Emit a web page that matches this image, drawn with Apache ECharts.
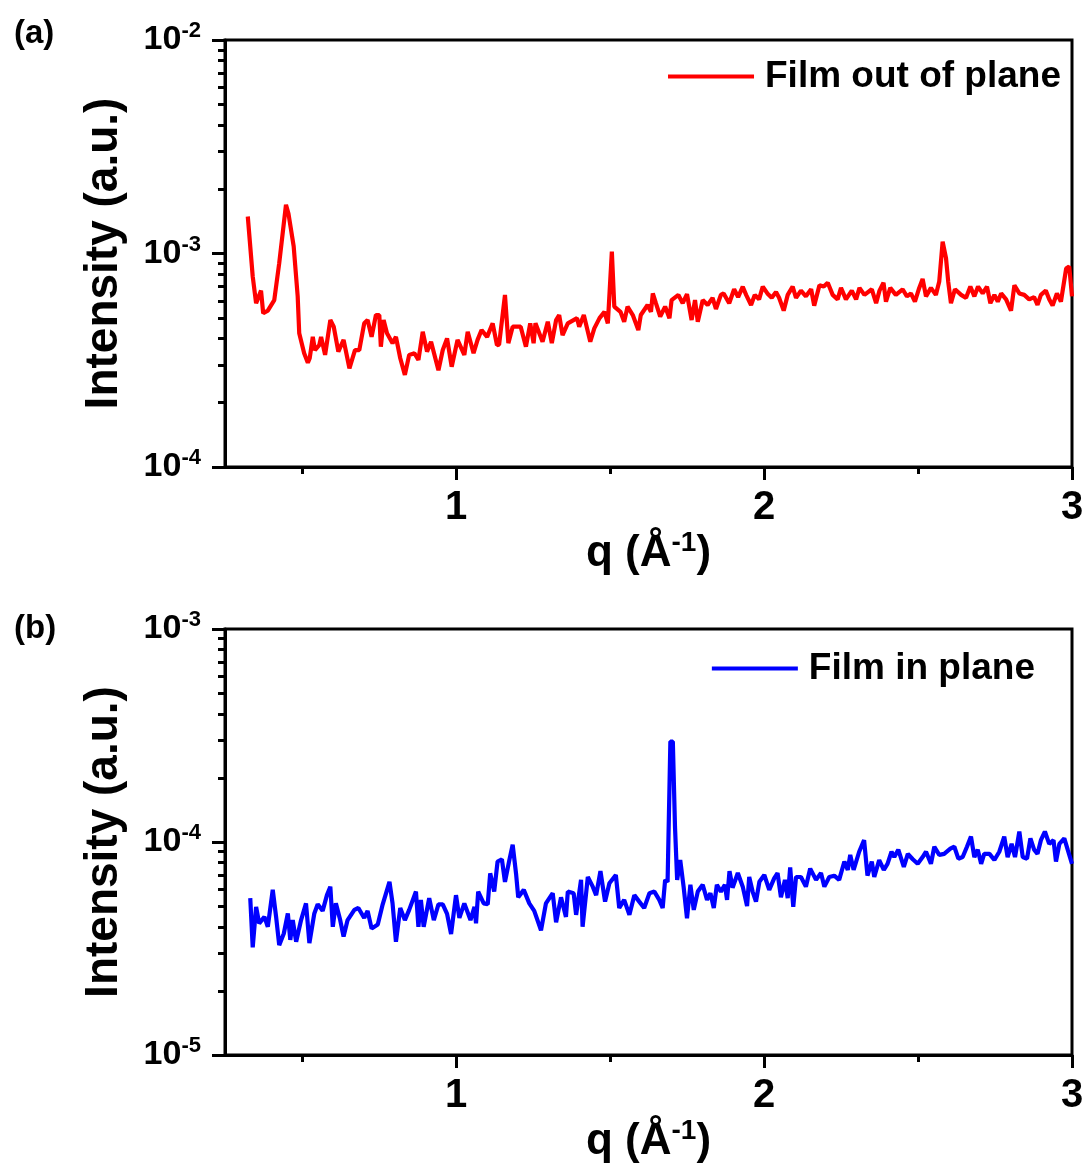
<!DOCTYPE html>
<html><head><meta charset="utf-8">
<script src="https://cdn.jsdelivr.net/npm/echarts@6/dist/echarts.min.js"></script>
<style>html,body{margin:0;padding:0;background:#fff}#c{width:1088px;height:1171px}</style>
</head><body><div id="c"></div>
<script>
// ---- Data: panel (a) Film out of plane ----
const qA = [0.324,0.340,0.351,0.367,0.374,0.389,0.410,0.426,0.448,0.456,0.473,0.486,0.491,0.507,0.519,0.525,0.535,0.542,0.556,0.562,0.575,0.592,0.603,0.618,0.635,0.654,0.672,0.686,0.702,0.713,0.726,0.740,0.751,0.756,0.765,0.776,0.794,0.805,0.819,0.834,0.848,0.865,0.878,0.892,0.906,0.919,0.943,0.957,0.971,0.986,1.005,1.027,1.038,1.057,1.070,1.083,1.101,1.119,1.133,1.140,1.159,1.170,1.184,1.210,1.227,1.241,1.252,1.258,1.281,1.298,1.311,1.325,1.335,1.346,1.363,1.393,1.400,1.415,1.436,1.449,1.466,1.482,1.493,1.506,1.514,1.534,1.546,1.557,1.574,1.580,1.592,1.600,1.622,1.633,1.639,1.649,1.663,1.679,1.693,1.700,1.722,1.736,1.750,1.765,1.776,1.785,1.801,1.817,1.833,1.844,1.860,1.869,1.887,1.903,1.916,1.931,1.942,1.958,1.970,1.984,1.996,2.011,2.025,2.039,2.049,2.064,2.077,2.093,2.104,2.120,2.136,2.153,2.163,2.180,2.194,2.207,2.223,2.239,2.250,2.266,2.285,2.299,2.310,2.326,2.350,2.364,2.375,2.388,2.396,2.410,2.428,2.450,2.464,2.477,2.490,2.504,2.515,2.526,2.542,2.558,2.569,2.580,2.591,2.598,2.607,2.620,2.640,2.656,2.670,2.683,2.695,2.710,2.724,2.735,2.748,2.759,2.770,2.786,2.802,2.813,2.829,2.845,2.861,2.877,2.888,2.899,2.915,2.926,2.937,2.951,2.964,2.981,2.991,3.000];
const intensityA = [1.49e-3,7.8e-4,5.85e-4,6.7e-4,5.25e-4,5.4e-4,6.05e-4,9.0e-4,1.69e-3,1.54e-3,1.08e-3,6.3e-4,4.23e-4,3.41e-4,3.08e-4,3.23e-4,4.07e-4,3.53e-4,3.72e-4,4.07e-4,3.35e-4,4.88e-4,4.54e-4,3.47e-4,3.94e-4,2.9e-4,3.53e-4,3.53e-4,4.71e-4,4.88e-4,4.07e-4,5.15e-4,5.15e-4,3.66e-4,4.88e-4,4.23e-4,3.8e-4,4.07e-4,3.23e-4,2.7e-4,3.35e-4,3.41e-4,3.17e-4,4.3e-4,3.47e-4,3.86e-4,2.84e-4,3.53e-4,4.0e-4,2.95e-4,3.94e-4,3.35e-4,4.3e-4,3.41e-4,3.94e-4,4.38e-4,4.07e-4,4.71e-4,3.72e-4,3.75e-4,6.4e-4,3.8e-4,4.54e-4,4.54e-4,3.66e-4,4.71e-4,3.8e-4,4.71e-4,3.86e-4,4.79e-4,3.8e-4,4.88e-4,5.15e-4,4.15e-4,4.71e-4,4.98e-4,4.54e-4,5.15e-4,3.86e-4,4.46e-4,4.98e-4,5.33e-4,4.71e-4,1.02e-3,5.64e-4,5.33e-4,4.79e-4,5.64e-4,5.15e-4,5.2e-4,4.38e-4,5.15e-4,5.74e-4,5.33e-4,6.5e-4,5.85e-4,5.07e-4,5.64e-4,4.98e-4,6.05e-4,6.4e-4,5.85e-4,6.45e-4,4.88e-4,6.05e-4,4.79e-4,6.05e-4,5.74e-4,6.2e-4,5.5e-4,6.4e-4,6.5e-4,5.85e-4,6.8e-4,6.25e-4,6.99e-4,6.4e-4,5.74e-4,6.4e-4,6.1e-4,7.0e-4,6.5e-4,6.2e-4,6.6e-4,6.2e-4,5.4e-4,6.4e-4,7.0e-4,6.2e-4,6.7e-4,6.3e-4,6.8e-4,5.7e-4,7.1e-4,7.0e-4,7.3e-4,6.4e-4,6.1e-4,6.9e-4,6.1e-4,6.7e-4,6.1e-4,6.9e-4,6.4e-4,6.8e-4,5.85e-4,6.7e-4,7.3e-4,5.95e-4,6.9e-4,6.4e-4,6.8e-4,6.3e-4,6.5e-4,5.95e-4,6.9e-4,7.6e-4,6.3e-4,6.9e-4,6.4e-4,7.4e-4,1.135e-3,9.5e-4,7.4e-4,5.85e-4,6.8e-4,6.4e-4,6.2e-4,7.0e-4,6.3e-4,7.0e-4,6.5e-4,7.0e-4,5.85e-4,6.4e-4,5.95e-4,6.5e-4,6.1e-4,5.4e-4,7.1e-4,6.5e-4,6.4e-4,6.1e-4,6.25e-4,5.75e-4,6.4e-4,6.7e-4,6.1e-4,5.7e-4,6.5e-4,5.95e-4,8.5e-4,8.7e-4,6.3e-4];

// ---- Data: panel (b) Film in plane ----
const qB = [0.332,0.340,0.351,0.361,0.378,0.389,0.405,0.416,0.426,0.441,0.454,0.462,0.470,0.481,0.497,0.513,0.524,0.540,0.551,0.567,0.581,0.592,0.600,0.610,0.624,0.635,0.648,0.670,0.683,0.702,0.713,0.726,0.746,0.762,0.784,0.794,0.805,0.819,0.834,0.848,0.870,0.878,0.886,0.895,0.913,0.928,0.943,0.957,0.971,0.984,1.000,1.011,1.027,1.047,1.060,1.065,1.072,1.090,1.103,1.111,1.124,1.135,1.149,1.159,1.173,1.184,1.195,1.202,1.220,1.238,1.254,1.276,1.292,1.314,1.325,1.341,1.357,1.363,1.382,1.390,1.406,1.411,1.428,1.444,1.455,1.469,1.484,1.498,1.519,1.530,1.546,1.563,1.579,1.595,1.611,1.628,1.644,1.660,1.671,1.679,1.687,1.696,1.704,1.711,1.718,1.728,1.739,1.750,1.761,1.772,1.785,1.801,1.815,1.826,1.837,1.847,1.860,1.873,1.880,1.888,1.898,1.915,1.931,1.945,1.952,1.963,1.974,1.985,2.001,2.017,2.033,2.044,2.055,2.068,2.077,2.085,2.095,2.104,2.120,2.136,2.150,2.169,2.185,2.196,2.212,2.228,2.244,2.261,2.272,2.280,2.291,2.309,2.325,2.336,2.350,2.358,2.374,2.389,2.401,2.414,2.423,2.436,2.454,2.467,2.483,2.499,2.515,2.526,2.542,2.553,2.569,2.585,2.605,2.618,2.631,2.645,2.659,2.672,2.683,2.694,2.705,2.715,2.732,2.748,2.764,2.780,2.791,2.804,2.815,2.829,2.840,2.854,2.865,2.877,2.888,2.899,2.912,2.926,2.940,2.948,2.959,2.975,2.986,3.000];
const intensityB = [5.45e-5,3.2e-5,4.96e-5,4.15e-5,4.45e-5,4.0e-5,5.96e-5,4.45e-5,3.28e-5,3.72e-5,4.62e-5,3.47e-5,4.3e-5,3.4e-5,4.3e-5,5.15e-5,3.35e-5,4.62e-5,5.1e-5,4.75e-5,5.63e-5,6.17e-5,4.0e-5,5.15e-5,4.3e-5,3.6e-5,4.3e-5,4.8e-5,4.9e-5,4.4e-5,4.75e-5,3.92e-5,4.1e-5,5.1e-5,6.5e-5,5.15e-5,3.4e-5,4.9e-5,4.3e-5,4.8e-5,5.85e-5,4.0e-5,5.35e-5,4.0e-5,5.45e-5,4.3e-5,5.1e-5,5.1e-5,4.6e-5,3.7e-5,5.63e-5,4.4e-5,5.15e-5,4.3e-5,4.96e-5,4.15e-5,5.85e-5,5.15e-5,5.1e-5,7.13e-5,5.85e-5,8.1e-5,8.3e-5,6.5e-5,8.2e-5,9.7e-5,7.1e-5,5.5e-5,5.96e-5,5.15e-5,4.75e-5,3.85e-5,5.15e-5,5.75e-5,4.2e-5,5.5e-5,4.45e-5,5.85e-5,5.75e-5,4.55e-5,6.64e-5,4.0e-5,6.85e-5,6.17e-5,5.63e-5,7.3e-5,5.25e-5,6.4e-5,7.0e-5,4.9e-5,5.35e-5,4.55e-5,5.63e-5,5.25e-5,4.9e-5,5.75e-5,5.85e-5,5.35e-5,4.9e-5,6.64e-5,6.5e-5,2.96e-4,2.96e-4,1.18e-4,6.64e-5,8.23e-5,6.17e-5,4.38e-5,6.3e-5,4.8e-5,5.85e-5,6.3e-5,5.35e-5,5.75e-5,4.9e-5,6.3e-5,5.85e-5,6.3e-5,5.35e-5,7.3e-5,6.1e-5,7.15e-5,6.17e-5,5.0e-5,6.85e-5,5.85e-5,5.25e-5,6.5e-5,7.0e-5,5.96e-5,6.75e-5,7.15e-5,5.5e-5,6.64e-5,5.45e-5,7.6e-5,4.96e-5,6.85e-5,6.85e-5,6.17e-5,7.5e-5,6.64e-5,7.15e-5,6.17e-5,6.85e-5,6.95e-5,6.64e-5,8.1e-5,7.4e-5,8.7e-5,7.4e-5,9.0e-5,1.02e-4,6.95e-5,8.1e-5,6.85e-5,8.23e-5,7.4e-5,7.9e-5,9.0e-5,8.5e-5,9.2e-5,7.65e-5,8.8e-5,8.3e-5,7.9e-5,8.5e-5,9.0e-5,7.9e-5,9.5e-5,8.7e-5,8.8e-5,9.3e-5,9.5e-5,8.35e-5,8.5e-5,9.5e-5,1.06e-4,8.5e-5,9.2e-5,7.9e-5,8.8e-5,8.8e-5,8.23e-5,9.0e-5,1.06e-4,8.5e-5,9.8e-5,8.5e-5,1.12e-4,8.5e-5,8.35e-5,1.04e-4,9.2e-5,8.8e-5,1.02e-4,1.12e-4,9.8e-5,1.02e-4,8.1e-5,9.8e-5,1.04e-4,9.2e-5,7.9e-5];

// ---- Ticks ----
const xMajorTicks = [1, 2, 3];
const xMinorTicks = [0.5, 1.5, 2.5];
const yMajorA = [1e-4, 1e-3, 1e-2];
const yMinorA = [2e-4,3e-4,4e-4,5e-4,6e-4,7e-4,8e-4,9e-4,2e-3,3e-3,4e-3,5e-3,6e-3,7e-3,8e-3,9e-3];
const yMajorB = [1e-5, 1e-4, 1e-3];
const yMinorB = [2e-5,3e-5,4e-5,5e-5,6e-5,7e-5,8e-5,9e-5,2e-4,3e-4,4e-4,5e-4,6e-4,7e-4,8e-4,9e-4];
const seriesNames = ['Film out of plane', 'Film in plane'];
const panelLabels = ['(a)', '(b)'];

const FONT = '"Liberation Sans", Arial, sans-serif';
const pairsA = qA.map((q, i) => [q, intensityA[i]]);
const pairsB = qB.map((q, i) => [q, intensityB[i]]);

const grids = [
  {left: 225, top: 40, width: 847, height: 427},
  {left: 225, top: 629, width: 847, height: 426}
];

function xMain(gi) {
  return {
    gridIndex: gi, type: 'value', min: 0.25, max: 3, position: 'bottom',
    axisLine: {onZero: false, lineStyle: {color: '#000', width: 3}},
    axisTick: {customValues: xMajorTicks, length: 13, lineStyle: {color: '#000', width: 3}},
    axisLabel: {customValues: xMajorTicks, fontSize: 40, fontWeight: 'bold', fontFamily: FONT, color: '#000', margin: 21},
    splitLine: {show: false},
    name: '{a|q (Å}{s|-1}{a|)}', nameLocation: 'middle', nameGap: 62,
    nameTextStyle: {rich: {
      a: {fontSize: 44, fontWeight: 'bold', fontFamily: FONT, color: '#000', lineHeight: 50},
      s: {fontSize: 28, fontWeight: 'bold', fontFamily: FONT, color: '#000', lineHeight: 28, verticalAlign: 'top'}
    }}
  };
}
function xMinor(gi) {
  return {
    gridIndex: gi, type: 'value', min: 0.25, max: 3, position: 'bottom',
    axisLine: {show: false, onZero: false},
    axisTick: {customValues: xMinorTicks, length: 7, lineStyle: {color: '#000', width: 3}},
    axisLabel: {show: false}, splitLine: {show: false}
  };
}
function yMain(gi, lo, hi, major) {
  return {
    gridIndex: gi, type: 'log', logBase: 10, min: lo, max: hi, position: 'left',
    axisLine: {lineStyle: {color: '#000', width: 3}},
    axisTick: {customValues: major, length: 13, lineStyle: {color: '#000', width: 3}},
    axisLabel: {
      customValues: major, margin: 24,
      formatter: v => '{b|10}{s|' + Math.round(Math.log10(v)) + '}',
      rich: {
        b: {fontSize: 34, fontWeight: 'bold', fontFamily: FONT, color: '#000', lineHeight: 40},
        s: {fontSize: 22, fontWeight: 'bold', fontFamily: FONT, color: '#000', lineHeight: 20, verticalAlign: 'top'}
      }
    },
    splitLine: {show: false},
    name: 'Intensity (a.u.)', nameLocation: 'middle', nameGap: 98, nameRotate: 90,
    nameTextStyle: {fontSize: 46, fontWeight: 'bold', fontFamily: FONT, color: '#000'}
  };
}
function yMinor(gi, lo, hi, minor) {
  return {
    gridIndex: gi, type: 'log', logBase: 10, min: lo, max: hi, position: 'left',
    axisLine: {show: false},
    axisTick: {customValues: minor, length: 7, lineStyle: {color: '#000', width: 3}},
    axisLabel: {show: false}, splitLine: {show: false}
  };
}

const legendCommon = {
  itemWidth: 86, itemHeight: 4, itemGap: 0, icon: 'rect',
  textStyle: {fontSize: 37, fontWeight: 'bold', fontFamily: FONT, color: '#000', padding: [0, 0, 0, 6]}
};

const chart = echarts.init(document.getElementById('c'), null, {renderer: 'canvas'});
chart.setOption({
  animation: false,
  backgroundColor: '#fff',
  title: [
    {text: panelLabels[0], left: 9, top: 12, textStyle: {fontSize: 33, fontWeight: 'bold', fontFamily: FONT, color: '#000'}},
    {text: panelLabels[1], left: 9, top: 607, textStyle: {fontSize: 33, fontWeight: 'bold', fontFamily: FONT, color: '#000'}}
  ],
  grid: grids.map(g => Object.assign({show: true, borderColor: '#000', borderWidth: 3, backgroundColor: 'transparent'}, g)),
  legend: [
    Object.assign({data: [seriesNames[0]], right: 22, top: 53}, legendCommon),
    Object.assign({data: [seriesNames[1]], right: 48, top: 645}, legendCommon)
  ],
  xAxis: [xMain(0), xMinor(0), xMain(1), xMinor(1)],
  yAxis: [yMain(0, 1e-4, 1e-2, yMajorA), yMinor(0, 1e-4, 1e-2, yMinorA),
          yMain(1, 1e-5, 1e-3, yMajorB), yMinor(1, 1e-5, 1e-3, yMinorB)],
  series: [
    {name: seriesNames[0], type: 'line', xAxisIndex: 0, yAxisIndex: 0, data: pairsA,
     symbol: 'none', showSymbol: false, lineStyle: {color: '#ff0000', width: 4.2}, itemStyle: {color: '#ff0000'}},
    {name: seriesNames[1], type: 'line', xAxisIndex: 2, yAxisIndex: 2, data: pairsB,
     symbol: 'none', showSymbol: false, lineStyle: {color: '#0000ff', width: 4.2}, itemStyle: {color: '#0000ff'}}
  ]
});
</script>
</body></html>
